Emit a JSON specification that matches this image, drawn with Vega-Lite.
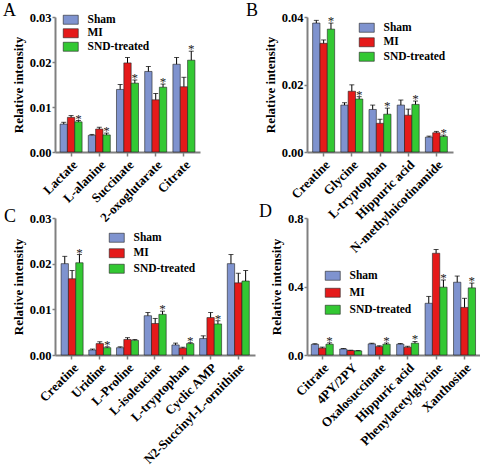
{
  "$schema": "https://vega.github.io/schema/vega-lite/v6.json",
  "padding": {"left": 3, "top": 2, "right": 0, "bottom": 0},
  "datasets": {
    "A": [
      {"m": "Lactate", "g": "Sham", "v": 0.0062, "hi": 0.0066, "s": ""},
      {"m": "Lactate", "g": "MI", "v": 0.0077, "hi": 0.0081, "s": ""},
      {"m": "Lactate", "g": "SND-treated", "v": 0.0067, "hi": 0.0070, "s": "*"},
      {"m": "L-alanine", "g": "Sham", "v": 0.0037, "hi": 0.0039, "s": ""},
      {"m": "L-alanine", "g": "MI", "v": 0.0051, "hi": 0.0055, "s": ""},
      {"m": "L-alanine", "g": "SND-treated", "v": 0.0038, "hi": 0.0042, "s": "*"},
      {"m": "Succinate", "g": "Sham", "v": 0.0139, "hi": 0.0150, "s": ""},
      {"m": "Succinate", "g": "MI", "v": 0.0198, "hi": 0.0210, "s": ""},
      {"m": "Succinate", "g": "SND-treated", "v": 0.0153, "hi": 0.0160, "s": "*"},
      {"m": "2-oxoglutarate", "g": "Sham", "v": 0.0179, "hi": 0.0190, "s": ""},
      {"m": "2-oxoglutarate", "g": "MI", "v": 0.0116, "hi": 0.0130, "s": ""},
      {"m": "2-oxoglutarate", "g": "SND-treated", "v": 0.0144, "hi": 0.0151, "s": "*"},
      {"m": "Citrate", "g": "Sham", "v": 0.0195, "hi": 0.0210, "s": ""},
      {"m": "Citrate", "g": "MI", "v": 0.0145, "hi": 0.0166, "s": ""},
      {"m": "Citrate", "g": "SND-treated", "v": 0.0204, "hi": 0.0224, "s": "*"}
    ],
    "B": [
      {"m": "Creatine", "g": "Sham", "v": 0.0382, "hi": 0.0390, "s": ""},
      {"m": "Creatine", "g": "MI", "v": 0.0322, "hi": 0.0332, "s": ""},
      {"m": "Creatine", "g": "SND-treated", "v": 0.0364, "hi": 0.0382, "s": "*"},
      {"m": "Glycine", "g": "Sham", "v": 0.0139, "hi": 0.0146, "s": ""},
      {"m": "Glycine", "g": "MI", "v": 0.0180, "hi": 0.0199, "s": ""},
      {"m": "Glycine", "g": "SND-treated", "v": 0.0157, "hi": 0.0164, "s": "*"},
      {"m": "L-tryptophan", "g": "Sham", "v": 0.0126, "hi": 0.0139, "s": ""},
      {"m": "L-tryptophan", "g": "MI", "v": 0.0085, "hi": 0.0097, "s": ""},
      {"m": "L-tryptophan", "g": "SND-treated", "v": 0.0112, "hi": 0.0130, "s": "*"},
      {"m": "Hippuric acid", "g": "Sham", "v": 0.0139, "hi": 0.0154, "s": ""},
      {"m": "Hippuric acid", "g": "MI", "v": 0.0109, "hi": 0.0127, "s": ""},
      {"m": "Hippuric acid", "g": "SND-treated", "v": 0.0141, "hi": 0.0151, "s": "*"},
      {"m": "N-methylnicotinamide", "g": "Sham", "v": 0.0044, "hi": 0.0047, "s": ""},
      {"m": "N-methylnicotinamide", "g": "MI", "v": 0.0057, "hi": 0.0061, "s": ""},
      {"m": "N-methylnicotinamide", "g": "SND-treated", "v": 0.0046, "hi": 0.0050, "s": "*"}
    ],
    "C": [
      {"m": "Creatine", "g": "Sham", "v": 0.0200, "hi": 0.0216, "s": ""},
      {"m": "Creatine", "g": "MI", "v": 0.0167, "hi": 0.0185, "s": ""},
      {"m": "Creatine", "g": "SND-treated", "v": 0.0202, "hi": 0.0220, "s": "*"},
      {"m": "Uridine", "g": "Sham", "v": 0.0011, "hi": 0.0013, "s": ""},
      {"m": "Uridine", "g": "MI", "v": 0.0025, "hi": 0.0029, "s": ""},
      {"m": "Uridine", "g": "SND-treated", "v": 0.0016, "hi": 0.0018, "s": "*"},
      {"m": "L-Proline", "g": "Sham", "v": 0.0016, "hi": 0.0018, "s": ""},
      {"m": "L-Proline", "g": "MI", "v": 0.0034, "hi": 0.0038, "s": ""},
      {"m": "L-Proline", "g": "SND-treated", "v": 0.0032, "hi": 0.0034, "s": ""},
      {"m": "L-isoleucine", "g": "Sham", "v": 0.0086, "hi": 0.0093, "s": ""},
      {"m": "L-isoleucine", "g": "MI", "v": 0.0069, "hi": 0.0080, "s": ""},
      {"m": "L-isoleucine", "g": "SND-treated", "v": 0.0089, "hi": 0.0096, "s": "*"},
      {"m": "L-tryptophan", "g": "Sham", "v": 0.0022, "hi": 0.0026, "s": ""},
      {"m": "L-tryptophan", "g": "MI", "v": 0.0015, "hi": 0.0017, "s": ""},
      {"m": "L-tryptophan", "g": "SND-treated", "v": 0.0025, "hi": 0.0027, "s": "*"},
      {"m": "Cyclic AMP", "g": "Sham", "v": 0.0036, "hi": 0.0042, "s": ""},
      {"m": "Cyclic AMP", "g": "MI", "v": 0.0082, "hi": 0.0093, "s": ""},
      {"m": "Cyclic AMP", "g": "SND-treated", "v": 0.0068, "hi": 0.0075, "s": "*"},
      {"m": "N2-Succinyl-L-ornithine", "g": "Sham", "v": 0.0200, "hi": 0.0220, "s": ""},
      {"m": "N2-Succinyl-L-ornithine", "g": "MI", "v": 0.0158, "hi": 0.0179, "s": ""},
      {"m": "N2-Succinyl-L-ornithine", "g": "SND-treated", "v": 0.0162, "hi": 0.0185, "s": ""}
    ],
    "D": [
      {"m": "Citrate", "g": "Sham", "v": 0.062, "hi": 0.066, "s": ""},
      {"m": "Citrate", "g": "MI", "v": 0.040, "hi": 0.046, "s": ""},
      {"m": "Citrate", "g": "SND-treated", "v": 0.063, "hi": 0.071, "s": "*"},
      {"m": "4PY/2PY", "g": "Sham", "v": 0.035, "hi": 0.038, "s": ""},
      {"m": "4PY/2PY", "g": "MI", "v": 0.026, "hi": 0.028, "s": ""},
      {"m": "4PY/2PY", "g": "SND-treated", "v": 0.024, "hi": 0.026, "s": ""},
      {"m": "Oxalosuccinate", "g": "Sham", "v": 0.065, "hi": 0.069, "s": ""},
      {"m": "Oxalosuccinate", "g": "MI", "v": 0.049, "hi": 0.054, "s": ""},
      {"m": "Oxalosuccinate", "g": "SND-treated", "v": 0.063, "hi": 0.070, "s": "*"},
      {"m": "Hippuric acid", "g": "Sham", "v": 0.063, "hi": 0.067, "s": ""},
      {"m": "Hippuric acid", "g": "MI", "v": 0.045, "hi": 0.051, "s": ""},
      {"m": "Hippuric acid", "g": "SND-treated", "v": 0.069, "hi": 0.079, "s": "*"},
      {"m": "Phenylacetylglycine", "g": "Sham", "v": 0.302, "hi": 0.342, "s": ""},
      {"m": "Phenylacetylglycine", "g": "MI", "v": 0.594, "hi": 0.616, "s": ""},
      {"m": "Phenylacetylglycine", "g": "SND-treated", "v": 0.396, "hi": 0.438, "s": "*"},
      {"m": "Xanthosine", "g": "Sham", "v": 0.425, "hi": 0.461, "s": ""},
      {"m": "Xanthosine", "g": "MI", "v": 0.278, "hi": 0.331, "s": ""},
      {"m": "Xanthosine", "g": "SND-treated", "v": 0.392, "hi": 0.420, "s": "*"}
    ]
  },
  "columns": 2,
  "align": "each",
  "bounds": "flush",
  "spacing": {"row": 66, "column": 52},
  "resolve": {"scale": {"color": "independent"}, "legend": {"color": "independent"}},
  "concat": [
    {
      "width": 145, "height": 135,
      "title": {"text": "A", "dx": -52, "dy": 13},
      "data": {"name": "A"},
      "encoding": {
        "x": {"field": "m", "type": "nominal", "sort": null, "scale": {"paddingInner": 0.22, "paddingOuter": 0.18}},
        "xOffset": {"field": "g", "type": "nominal", "sort": ["Sham", "MI", "SND-treated"], "scale": {"paddingInner": 0, "paddingOuter": 0}}
      },
      "layer": [
        {"mark": {"type": "bar", "stroke": "#222222", "strokeWidth": 0.6},
         "encoding": {
           "y": {"field": "v", "type": "quantitative", "scale": {"domain": [0, 0.03], "nice": false}, "axis": {"values": [0, 0.01, 0.02, 0.03], "format": ".2f", "title": "Relative intensity"}},
           "color": {"field": "g", "type": "nominal", "sort": ["Sham", "MI", "SND-treated"], "scale": {"domain": ["Sham", "MI", "SND-treated"], "range": ["#7F93CF", "#E51A1A", "#33C833"]}, "legend": {"legendX": 10, "legendY": -3, "rowPadding": 0.5}}
         }},
        {"mark": {"type": "rule", "color": "black", "strokeWidth": 1}, "encoding": {"y": {"field": "v", "type": "quantitative"}, "y2": {"field": "hi"}}},
        {"mark": {"type": "tick", "color": "black", "thickness": 1, "size": 5}, "encoding": {"y": {"field": "hi", "type": "quantitative"}}},
        {"mark": {"type": "text", "color": "#222222", "fontSize": 13, "baseline": "alphabetic", "dy": 2, "font": "Liberation Serif"}, "encoding": {"y": {"field": "hi", "type": "quantitative"}, "text": {"field": "s"}}}
      ]
    },
    {
      "width": 146, "height": 135,
      "title": {"text": "B", "dx": -61, "dy": 13},
      "data": {"name": "B"},
      "encoding": {
        "x": {"field": "m", "type": "nominal", "sort": null, "scale": {"paddingInner": 0.22, "paddingOuter": 0.2}},
        "xOffset": {"field": "g", "type": "nominal", "sort": ["Sham", "MI", "SND-treated"], "scale": {"paddingInner": 0, "paddingOuter": 0}}
      },
      "layer": [
        {"mark": {"type": "bar", "stroke": "#222222", "strokeWidth": 0.6},
         "encoding": {
           "y": {"field": "v", "type": "quantitative", "scale": {"domain": [0, 0.04], "nice": false}, "axis": {"values": [0, 0.01, 0.02, 0.03, 0.04], "format": ".2f", "title": "Relative intensity"}},
           "color": {"field": "g", "type": "nominal", "sort": ["Sham", "MI", "SND-treated"], "scale": {"domain": ["Sham", "MI", "SND-treated"], "range": ["#7F93CF", "#E51A1A", "#33C833"]}, "legend": {"legendX": 54, "legendY": 5, "rowPadding": 1.5}}
         }},
        {"mark": {"type": "rule", "color": "black", "strokeWidth": 1}, "encoding": {"y": {"field": "v", "type": "quantitative"}, "y2": {"field": "hi"}}},
        {"mark": {"type": "tick", "color": "black", "thickness": 1, "size": 5}, "encoding": {"y": {"field": "hi", "type": "quantitative"}}},
        {"mark": {"type": "text", "color": "#222222", "fontSize": 13, "baseline": "alphabetic", "dy": 2, "font": "Liberation Serif"}, "encoding": {"y": {"field": "hi", "type": "quantitative"}, "text": {"field": "s"}}}
      ]
    },
    {
      "width": 200, "height": 137,
      "title": {"text": "C", "dx": -51, "dy": 18},
      "data": {"name": "C"},
      "encoding": {
        "x": {"field": "m", "type": "nominal", "sort": null, "scale": {"paddingInner": 0.22, "paddingOuter": 0.22}},
        "xOffset": {"field": "g", "type": "nominal", "sort": ["Sham", "MI", "SND-treated"], "scale": {"paddingInner": 0, "paddingOuter": 0}}
      },
      "layer": [
        {"mark": {"type": "bar", "stroke": "#222222", "strokeWidth": 0.6},
         "encoding": {
           "y": {"field": "v", "type": "quantitative", "scale": {"domain": [0, 0.03], "nice": false}, "axis": {"values": [0, 0.01, 0.02, 0.03], "format": ".2f", "title": "Relative intensity"}},
           "color": {"field": "g", "type": "nominal", "sort": ["Sham", "MI", "SND-treated"], "scale": {"domain": ["Sham", "MI", "SND-treated"], "range": ["#7F93CF", "#E51A1A", "#33C833"]}, "legend": {"legendX": 56, "legendY": 14, "rowPadding": 2.5}}
         }},
        {"mark": {"type": "rule", "color": "black", "strokeWidth": 1}, "encoding": {"y": {"field": "v", "type": "quantitative"}, "y2": {"field": "hi"}}},
        {"mark": {"type": "tick", "color": "black", "thickness": 1, "size": 5}, "encoding": {"y": {"field": "hi", "type": "quantitative"}}},
        {"mark": {"type": "text", "color": "#222222", "fontSize": 13, "baseline": "alphabetic", "dy": 2, "font": "Liberation Serif"}, "encoding": {"y": {"field": "hi", "type": "quantitative"}, "text": {"field": "s"}}}
      ]
    },
    {
      "width": 173, "height": 137,
      "title": {"text": "D", "dx": -48, "dy": 13},
      "data": {"name": "D"},
      "encoding": {
        "x": {"field": "m", "type": "nominal", "sort": null, "scale": {"paddingInner": 0.22, "paddingOuter": 0.15}},
        "xOffset": {"field": "g", "type": "nominal", "sort": ["Sham", "MI", "SND-treated"], "scale": {"paddingInner": 0, "paddingOuter": 0}}
      },
      "layer": [
        {"mark": {"type": "bar", "stroke": "#222222", "strokeWidth": 0.6},
         "encoding": {
           "y": {"field": "v", "type": "quantitative", "scale": {"domain": [0, 0.8], "nice": false}, "axis": {"values": [0, 0.2, 0.4, 0.6, 0.8], "format": ".1f", "title": "Relative intensity"}},
           "color": {"field": "g", "type": "nominal", "sort": ["Sham", "MI", "SND-treated"], "scale": {"domain": ["Sham", "MI", "SND-treated"], "range": ["#7F93CF", "#E51A1A", "#33C833"]}, "legend": {"legendX": 20, "legendY": 52, "rowPadding": 4}}
         }},
        {"mark": {"type": "rule", "color": "black", "strokeWidth": 1}, "encoding": {"y": {"field": "v", "type": "quantitative"}, "y2": {"field": "hi"}}},
        {"mark": {"type": "tick", "color": "black", "thickness": 1, "size": 5}, "encoding": {"y": {"field": "hi", "type": "quantitative"}}},
        {"mark": {"type": "text", "color": "#222222", "fontSize": 13, "baseline": "alphabetic", "dy": 2, "font": "Liberation Serif"}, "encoding": {"y": {"field": "hi", "type": "quantitative"}, "text": {"field": "s"}}}
      ]
    }
  ],
  "config": {
    "font": "Liberation Serif",
    "view": {"stroke": null},
    "axis": {
      "grid": false,
      "domainColor": "#808080", "domainWidth": 2,
      "tickColor": "#808080", "tickWidth": 1.5, "tickSize": 3,
      "labelFont": "Liberation Serif", "labelFontWeight": "bold", "labelFontSize": 12.5, "labelColor": "black", "labelPadding": 1,
      "titleFont": "Liberation Serif", "titleFontWeight": "bold", "titleFontSize": 13, "titleColor": "black", "titlePadding": 4
    },
    "axisX": {"labelAngle": -45, "labelAlign": "right", "labelBaseline": "top", "title": null, "tickSize": 4, "labelPadding": 2, "labelFontSize": 13, "labelLimit": 400, "labelOverlap": false},
    "legend": {
      "orient": "none", "title": null,
      "symbolType": "M-1.67,-1H1.67V1H-1.67Z", "symbolSize": 81,
      "symbolStrokeColor": "#222222", "symbolStrokeWidth": 0.6, "symbolOpacity": 1,
      "labelFont": "Liberation Serif", "labelFontWeight": "bold", "labelFontSize": 11.5, "labelColor": "black", "labelOffset": 11,
      "padding": 0
    },
    "title": {"font": "Liberation Serif", "fontSize": 18, "fontWeight": "normal", "anchor": "start", "frame": "group", "offset": 0, "color": "black"}
  }
}
